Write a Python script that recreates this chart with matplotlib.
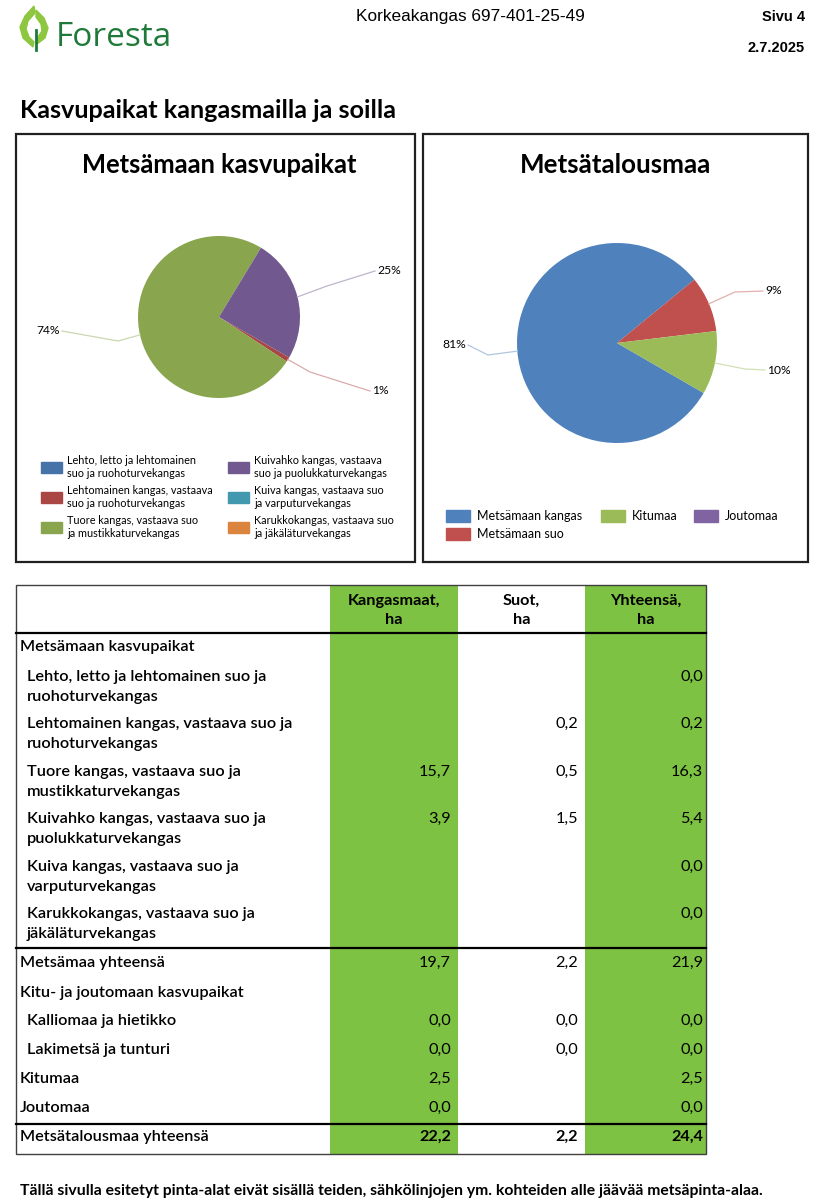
import numpy as np
import matplotlib.pyplot as plt
from matplotlib.patches import Rectangle, Polygon
from matplotlib.colors import to_rgb

# ---- data ----
left_title = "Metsämaan kasvupaikat"
left_names = ["Lehto, letto ja lehtomainen\nsuo ja ruohoturvekangas",
              "Lehtomainen kangas, vastaava\nsuo ja ruohoturvekangas",
              "Tuore kangas, vastaava suo\nja mustikkaturvekangas",
              "Kuivahko kangas, vastaava\nsuo ja puolukkaturvekangas",
              "Kuiva kangas, vastaava suo\nja varputurvekangas",
              "Karukkokangas, vastaava suo\nja jäkäläturvekangas"]
left_values = [0.0, 0.2, 16.3, 5.4, 0.0, 0.0]
left_colors = ['#4572A7', '#AA4643', '#89A54E', '#71588F', '#4198AF', '#DB843D']

right_title = "Metsätalousmaa"
right_names = ["Metsämaan kangas", "Metsämaan suo", "Kitumaa", "Joutomaa"]
right_values = [19.7, 2.2, 2.5, 0.0]
right_colors = ['#4F81BD', '#C0504D', '#9BBB59', '#8064A2']

col_headers = ["Kangasmaat,\nha", "Suot,\nha", "Yhteensä,\nha"]
row_labels = ["Metsämaan kasvupaikat",
              "Lehto, letto ja lehtomainen suo ja\nruohoturvekangas",
              "Lehtomainen kangas, vastaava suo ja\nruohoturvekangas",
              "Tuore kangas, vastaava suo ja\nmustikkaturvekangas",
              "Kuivahko kangas, vastaava suo ja\npuolukkaturvekangas",
              "Kuiva kangas, vastaava suo ja\nvarputurvekangas",
              "Karukkokangas, vastaava suo ja\njäkäläturvekangas",
              "Metsämaa yhteensä",
              "Kitu- ja joutomaan kasvupaikat",
              "Kalliomaa ja hietikko",
              "Lakimetsä ja tunturi",
              "Kitumaa",
              "Joutomaa",
              "Metsätalousmaa yhteensä"]
kangas = [None, None, None, 15.7, 3.9, None, None, 19.7, None, 0.0, 0.0, 2.5, 0.0, 22.2]
suot = [None, None, 0.2, 0.5, 1.5, None, None, 2.2, None, 0.0, 0.0, None, None, 2.2]
yhteensa = [None, 0.0, 0.2, 16.3, 5.4, 0.0, 0.0, 21.9, None, 0.0, 0.0, 2.5, 0.0, 24.4]

# ---- layout ----
FONT = ['Lato', 'DejaVu Sans']
NARROW = ['Liberation Sans Narrow', 'Liberation Sans', 'DejaVu Sans']
GREEN = '#7DC242'
TFS = 11.7  # table font size

fig = plt.figure(figsize=(8.19, 12), dpi=100)
ax = fig.add_axes([0, 0, 1, 1])


def lighten(c, f=0.55):
    r = np.array(to_rgb(c))
    return tuple(r + (1 - r) * f)


def fmt(v):
    return f"{v:.1f}".replace('.', ',')


def draw_pie(values, colors, center, radius, label_layout):
    wedges, _ = ax.pie(values, colors=colors, center=center, radius=radius,
                       startangle=30, counterclock=True,
                       wedgeprops=dict(linewidth=0))
    total = sum(values)
    for w, v, lay in zip(wedges, values, label_layout):
        if v <= 0 or lay is None:
            continue
        mid = np.deg2rad((w.theta1 + w.theta2) / 2)
        ax0 = center[0] + radius * np.cos(mid)
        ay0 = center[1] + radius * np.sin(mid)
        (ex, ey), (tx, ty), ha = lay
        ax.plot([ax0, ex, tx], [ay0, ey, ty], color=lighten(w.get_facecolor()),
                lw=0.9)
        off = 2 if ha == 'left' else -2
        ax.text(tx + off, ty, f"{round(100 * v / total)}%", ha=ha, va='center',
                fontsize=8.7, family=FONT)


# chart boxes
ax.add_patch(Rectangle((16, 134), 399, 428, fill=False, ec='#202020', lw=1.6))
ax.add_patch(Rectangle((423, 134), 385, 428, fill=False, ec='#202020', lw=1.6))

# left pie
draw_pie(left_values, left_colors, (219, 317), 81,
         [None, ((310, 372), (370, 391), 'left'),
          ((118, 341), (62, 331), 'right'),
          ((327, 286), (375, 271), 'left'), None, None])
# right pie
draw_pie(right_values, right_colors, (617, 343), 100,
         [((488, 355), (468, 345), 'right'),
          ((735, 292), (763, 291), 'left'),
          ((745, 369), (765, 370), 'left'), None])

ax.set_xlim(0, 819)
ax.set_ylim(1200, 0)
ax.set_aspect('auto')
ax.axis('off')

ax.text(219, 165, left_title, ha='center', va='center', fontsize=18.4,
        fontweight='bold', family=FONT)
ax.text(616, 165, right_title, ha='center', va='center', fontsize=18.6,
        fontweight='bold', family=FONT)

# left legend (2 columns x 3 rows, column-major)
for i, (name, c) in enumerate(zip(left_names, left_colors)):
    col, row = divmod(i, 3)
    x0 = 41 + col * 187
    y0 = 467 + row * 30
    ax.add_patch(Rectangle((x0, y0 - 5), 21, 11, color=c))
    ax.text(x0 + 26, y0, name, ha='left', va='center', fontsize=7.85,
            family=FONT, linespacing=1.2)

# right legend
right_leg_pos = [(446, 516), (446, 534), (601, 516), (694, 516)]
for (x0, y0), name, c in zip(right_leg_pos, right_names, right_colors):
    ax.add_patch(Rectangle((x0, y0 - 6), 24, 12, color=c))
    ax.text(x0 + 31, y0, name, ha='left', va='center', fontsize=9,
            family=FONT)

# ---- header ----
ax.text(470, 17, "Korkeakangas 697-401-25-49", ha='center', va='center',
        fontsize=12.4, family=NARROW)
ax.text(805, 17, "Sivu 4", ha='right', va='center', fontsize=10.5,
        fontweight='bold', family=NARROW)
ax.text(805, 48, "2.7.2025", ha='right', va='center', fontsize=10.5,
        fontweight='bold', family=NARROW)
ax.text(20, 111, "Kasvupaikat kangasmailla ja soilla", ha='left', va='center',
        fontsize=18.2, fontweight='bold', family=FONT)

# logo
leaf = '#8DC63F'
ax.add_patch(Polygon([(33, 47), (23, 38), (20, 27), (25, 16), (34, 6), (35, 13),
                      (28, 21), (26, 29), (29, 37), (34, 42)], color=leaf))
ax.add_patch(Polygon([(37, 44), (45, 38), (48, 28), (44, 18), (36, 10), (36, 17),
                      (41, 24), (42, 31), (38, 37)], color=leaf))
ax.plot([36, 36], [30, 50], color='#1F7A3A', lw=2)
ax.text(56, 37, "Foresta", ha='left', va='center', fontsize=24,
        color='#1F7A3A', family=['Open Sans', 'DejaVu Sans'])

# ---- table ----
tx0, tx1 = 16, 706
col_edges = [330, 458, 585, 706]
ty0, ty1 = 585, 1154
ax.add_patch(Rectangle((col_edges[0], ty0), col_edges[1] - col_edges[0], ty1 - ty0,
                       color=GREEN, lw=0))
ax.add_patch(Rectangle((col_edges[2], ty0), col_edges[3] - col_edges[2], ty1 - ty0,
                       color=GREEN, lw=0))
ax.add_patch(Rectangle((tx0, ty0), tx1 - tx0, ty1 - ty0, fill=False,
                       ec='#404040', lw=1.0))
for yl in [633, 948, 1124]:
    ax.plot([tx0, tx1], [yl, yl], color='black', lw=1.6)

hx = [(col_edges[i] + col_edges[i + 1]) / 2 for i in range(3)]
for x, h in zip(hx, col_headers):
    for k, line in enumerate(h.split('\n')):
        ax.text(x, 601 + 19 * k, line, ha='center', va='center', fontsize=TFS,
                fontweight='bold', family=FONT)

row_y = [647, 677, 724, 772, 819, 867, 914, 963, 993, 1021, 1050, 1079, 1108, 1137]
indented = [False, True, True, True, True, True, True, False, False, True, True,
            False, False, False]
val_x = [451, 578, 703]
for i, label in enumerate(row_labels):
    x = 27 if indented[i] else 20
    bold = i == len(row_labels) - 1
    for k, line in enumerate(label.split('\n')):
        ax.text(x, row_y[i] + 20 * k, line, ha='left', va='center', fontsize=TFS,
                fontweight='semibold', family=FONT)
    for vx, col in zip(val_x, [kangas, suot, yhteensa]):
        v = col[i]
        if v is None:
            continue
        ax.text(vx, row_y[i], fmt(v), ha='right', va='center', fontsize=TFS,
                fontweight='bold' if bold else 'normal', family=FONT)

ax.text(20, 1191, "Tällä sivulla esitetyt pinta-alat eivät sisällä teiden, "
        "sähkölinjojen ym. kohteiden alle jäävää metsäpinta-alaa.",
        ha='left', va='center', fontsize=11.3, fontweight='bold', family=FONT)

fig.savefig('out.png', dpi=100)
